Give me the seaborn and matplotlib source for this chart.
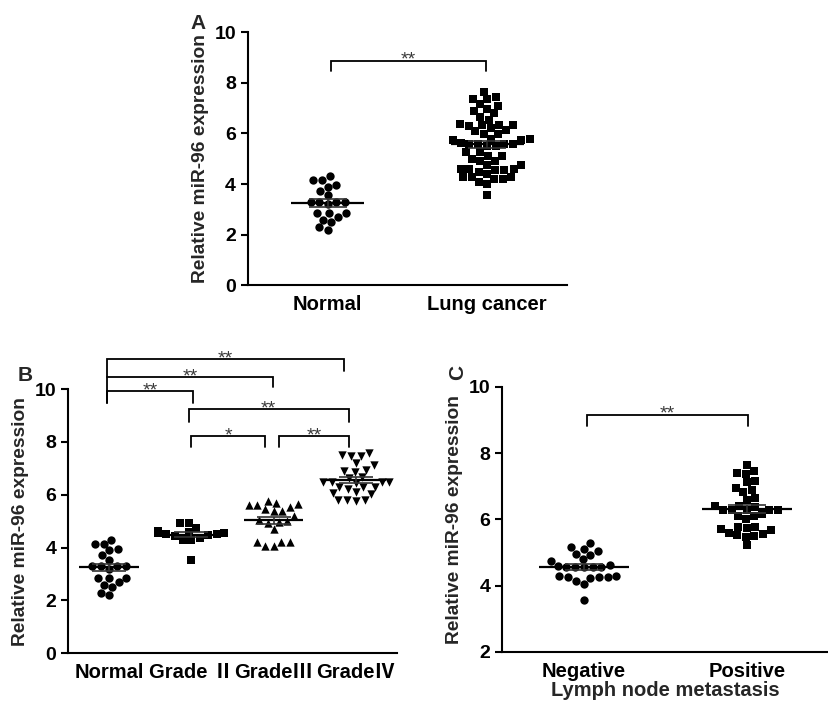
import numpy as np
import pandas as pd
import matplotlib
matplotlib.use("Agg")
import matplotlib.pyplot as plt
import seaborn as sns

# values (relative miR-96 expression)
normal = [4.15, 4.3, 4.15, 3.9, 3.95, 3.72, 3.55, 3.3, 3.3, 3.3, 3.3, 3.2,
          2.85, 2.85, 2.85, 2.7, 2.6, 2.5, 2.3, 2.2]
lung_cancer = [7.65, 7.45, 7.35, 7.35, 7.15, 7.1, 6.95, 6.88, 6.8, 6.64,
               6.54, 6.38, 6.32, 6.28, 6.32, 6.32, 6.2, 6.12, 6.08, 5.99,
               5.99, 5.79, 5.75, 5.75, 5.79, 5.62, 5.6, 5.59, 5.58, 5.6,
               5.49, 5.49, 5.26, 5.26, 5.09, 5.09, 4.9, 4.93, 5.0, 4.74,
               4.74, 4.6, 4.54, 4.54, 4.6, 4.6, 4.41, 4.47, 4.28, 4.28,
               4.21, 4.21, 4.28, 4.1, 4.01, 3.55]
grade_2 = [4.95, 4.92, 4.75, 4.6, 4.62, 4.55, 4.52, 4.55, 4.5, 4.48, 4.45,
           4.3, 4.3, 4.35, 3.55]
grade_3 = [5.75, 5.68, 5.65, 5.62, 5.6, 5.55, 5.45, 5.4, 5.38, 5.2, 5.05,
           5.0, 4.98, 4.95, 4.72, 4.22, 4.2, 4.2, 4.05, 4.05]
grade_4 = [7.59, 7.45, 7.45, 7.5, 7.2, 7.12, 6.95, 6.87, 6.9, 6.68, 6.63,
           6.5, 6.5, 6.48, 6.5, 6.45, 6.3, 6.28, 6.3, 6.2, 6.1, 6.05, 6.02,
           5.8, 5.8, 5.78, 5.8]
negative = [5.28, 5.16, 5.11, 5.06, 4.93, 4.95, 4.8, 4.75, 4.63, 4.55, 4.55,
            4.55, 4.57, 4.55, 4.6, 4.3, 4.25, 4.3, 4.27, 4.25, 4.15, 4.22,
            4.05, 3.58]
positive = [7.65, 7.47, 7.4, 7.38, 7.17, 7.13, 6.96, 6.82, 6.89, 6.64, 6.59,
            6.42, 6.38, 6.4, 6.3, 6.28, 6.3, 6.3, 6.29, 6.09, 6.1, 6.15, 6.0,
            5.78, 5.68, 5.7, 5.78, 5.75, 5.5, 5.56, 5.48, 5.52, 5.58, 5.23]

groups_a = ["Normal", "Lung cancer"]
groups_b = ["Normal", "Grade Ⅱ", "GradeⅢ", "GradeⅣ"]
groups_c = ["Negative", "Positive"]

sns.set_theme(style="ticks")
plt.rcParams["font.family"] = ["Liberation Sans", "Noto Sans CJK SC", "DejaVu Sans"]
plt.rcParams["font.weight"] = "bold"
plt.rcParams["axes.labelweight"] = "bold"


def dot_panel(ax, groups, values, markers, mean_w, cap):
    df = pd.DataFrame({
        "group": np.repeat(groups, [len(v) for v in values]),
        "value": np.concatenate(values),
    })
    for g, m in zip(groups, markers):
        sns.swarmplot(data=df[df["group"] == g], x="group", y="value",
                      order=groups, marker=m, color="black", size=6,
                      linewidth=0, ax=ax)
    stats = df.groupby("group", sort=False)["value"].agg(["mean", "sem"])
    for i, g in enumerate(groups):
        mu, se = stats.loc[g, "mean"], stats.loc[g, "sem"]
        ax.hlines(mu, i - mean_w / 2, i + mean_w / 2, color="black", lw=1.6, zorder=6)
        ax.errorbar(i, mu, yerr=se, fmt="none", ecolor="#333333",
                    elinewidth=1.2, capsize=cap, capthick=1.2, zorder=6)
    ax.set_xlim(-0.5, len(groups) - 0.5)
    ax.set_xlabel("")
    ax.set_ylabel("Relative miR-96 expression", fontsize=13.8, fontweight="bold")
    sns.despine(ax=ax)
    for s in ["left", "bottom"]:
        ax.spines[s].set_linewidth(1.5)
        ax.spines[s].set_color("black")
    ax.tick_params(axis="y", direction="out", length=5, width=1.5, labelsize=14, colors="black")
    ax.tick_params(axis="x", length=0, labelsize=14.5, colors="black", pad=7)
    for lab in ax.get_xticklabels() + ax.get_yticklabels():
        lab.set_fontweight("bold")


def bracket(ax, x1, x2, y, d1, d2, text):
    ax.plot([x1, x1, x2, x2], [y - d1, y, y, y - d2], color="black", lw=1.3,
            clip_on=False, solid_joinstyle="miter")
    ax.annotate(text, xy=((x1 + x2) / 2, y), xytext=(0, -3), textcoords="offset points",
                ha="center", va="baseline", fontsize=14, fontweight="normal",
                color="#3a3a3a", annotation_clip=False)


fig = plt.figure(figsize=(8.29, 7.01), dpi=100)

# panel A
ax_a = fig.add_axes([0.299, 0.593, 0.385, 0.361])
dot_panel(ax_a, groups_a, [normal, lung_cancer], ["o", "s"], 0.46, 14)
ax_a.set_ylim(0, 10)
ax_a.set_yticks([0, 2, 4, 6, 8, 10])
bracket(ax_a, 0.02, 0.99, 8.88, 0.42, 0.42, "**")
fig.text(0.239, 0.967, "A", fontsize=15, fontweight="bold", ha="center", va="center")

# panel B
ax_b = fig.add_axes([0.082, 0.068, 0.397, 0.377])
dot_panel(ax_b, groups_b, [normal, grade_2, grade_3, grade_4], ["o", "s", "^", "v"], 0.72, 12)
ax_b.set_ylim(0, 10)
ax_b.set_yticks([0, 2, 4, 6, 8, 10])
bracket(ax_b, -0.02, 2.85, 11.14, 1.67, 0.44, "**")
bracket(ax_b, -0.02, 1.99, 10.45, 0.0, 0.37, "**")
bracket(ax_b, -0.02, 1.02, 9.91, 0.44, 0.44, "**")
bracket(ax_b, 0.97, 2.91, 9.24, 0.47, 0.47, "**")
bracket(ax_b, 1.0, 1.9, 8.23, 0.43, 0.43, "*")
bracket(ax_b, 2.07, 2.91, 8.23, 0.43, 0.43, "**")
fig.text(0.030, 0.465, "B", fontsize=15, fontweight="bold", ha="center", va="center")

# panel C
ax_c = fig.add_axes([0.606, 0.070, 0.393, 0.378])
dot_panel(ax_c, groups_c, [negative, positive], ["o", "s"], 0.55, 14)
ax_c.set_ylim(2, 10)
ax_c.set_yticks([2, 4, 6, 8, 10])
ax_c.set_xlabel("Lymph node metastasis", fontsize=14.5, fontweight="bold", labelpad=0)
bracket(ax_c, 0.02, 1.01, 9.16, 0.35, 0.35, "**")
fig.text(0.552, 0.468, "C", fontsize=15, fontweight="bold", ha="center", va="center", rotation=90)

fig.savefig("out.png", dpi=100)
